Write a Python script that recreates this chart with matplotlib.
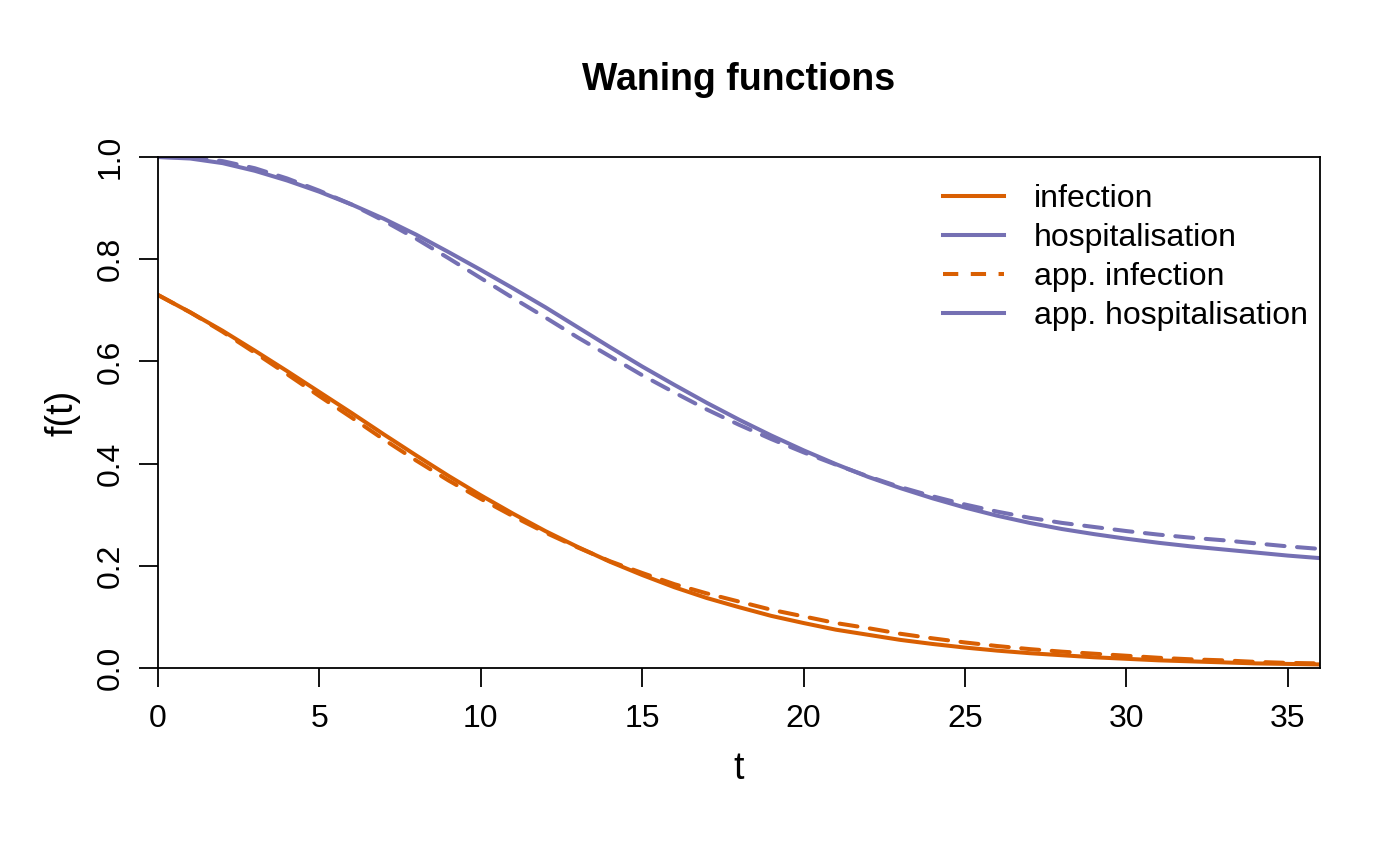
import matplotlib
matplotlib.use('Agg')
import matplotlib.pyplot as plt
from matplotlib.lines import Line2D

plt.rcParams['font.family'] = ['Liberation Sans', 'DejaVu Sans']
plt.rcParams['lines.scale_dashes'] = False

ORANGE = '#D95F02'
PURPLE = '#7570B3'

# time points and curve values
t = list(range(0, 37))

infection = [0.730, 0.696, 0.660, 0.621, 0.581, 0.540, 0.499, 0.457, 0.416, 0.376,
             0.338, 0.302, 0.268, 0.237, 0.208, 0.182, 0.158, 0.137, 0.119, 0.102,
             0.088, 0.075, 0.065, 0.055, 0.047, 0.040, 0.034, 0.029, 0.025, 0.021,
             0.018, 0.015, 0.013, 0.011, 0.009, 0.008, 0.007]

hospitalisation = [1.000, 0.997, 0.988, 0.973, 0.954, 0.932, 0.907, 0.879, 0.848, 0.814,
                   0.779, 0.743, 0.706, 0.667, 0.628, 0.590, 0.554, 0.519, 0.486, 0.455,
                   0.426, 0.399, 0.374, 0.352, 0.332, 0.314, 0.298, 0.284, 0.272, 0.262,
                   0.253, 0.245, 0.238, 0.232, 0.226, 0.220, 0.215]

app_infection = [0.730, 0.696, 0.658, 0.617, 0.575, 0.532, 0.490, 0.447, 0.406, 0.367,
                 0.331, 0.297, 0.265, 0.236, 0.209, 0.186, 0.164, 0.146, 0.130, 0.114,
                 0.101, 0.088, 0.078, 0.067, 0.058, 0.050, 0.043, 0.037, 0.032, 0.028,
                 0.024, 0.020, 0.017, 0.015, 0.012, 0.010, 0.009]

app_hospitalisation = [1.000, 0.999, 0.992, 0.978, 0.958, 0.934, 0.907, 0.875, 0.840, 0.802,
                       0.763, 0.724, 0.686, 0.647, 0.610, 0.573, 0.539, 0.506, 0.476, 0.448,
                       0.422, 0.398, 0.375, 0.354, 0.336, 0.320, 0.306, 0.294, 0.284, 0.276,
                       0.268, 0.261, 0.255, 0.250, 0.244, 0.238, 0.233]

legend_labels = ['infection', 'hospitalisation', 'app. infection', 'app. hospitalisation']

fig = plt.figure(figsize=(14, 8.65), dpi=100)
ax = fig.add_axes([158 / 1400, 1 - 668 / 865, (1320 - 158) / 1400, (668 - 157) / 865])

lw = 2.9
dash = (0, (13, 9))
ax.plot(t, infection, color=ORANGE, lw=lw, solid_capstyle='round')
ax.plot(t, hospitalisation, color=PURPLE, lw=lw, solid_capstyle='round')
ax.plot(t, app_infection, color=ORANGE, lw=lw, linestyle=dash, dash_capstyle='round')
ax.plot(t, app_hospitalisation, color=PURPLE, lw=lw, linestyle=dash, dash_capstyle='round')

ax.set_xlim(0, 36)
ax.set_ylim(0, 1)
ax.set_xticks([0, 5, 10, 15, 20, 25, 30, 35])
ax.set_yticks([0.0, 0.2, 0.4, 0.6, 0.8, 1.0])
ax.set_yticklabels(['0.0', '0.2', '0.4', '0.6', '0.8', '1.0'], rotation=90, va='center')
ax.tick_params(axis='both', direction='out', length=14, width=1.3, labelsize=23)
ax.tick_params(axis='x', pad=12)
ax.tick_params(axis='y', pad=9)
for s in ax.spines.values():
    s.set_linewidth(1.3)

ax.set_xlabel('t', fontsize=27, labelpad=12)
ax.set_ylabel('f(t)', fontsize=27, labelpad=11)
fig.text((158 + 1320) / 2 / 1400, 1 - 80 / 865, 'Waning functions',
         ha='center', va='center', fontsize=27, fontweight='bold')

handles = [Line2D([], [], color=ORANGE, lw=lw),
           Line2D([], [], color=PURPLE, lw=lw),
           Line2D([], [], color=ORANGE, lw=lw, linestyle=(0, (11, 9))),
           Line2D([], [], color=PURPLE, lw=lw)]
ax.legend(handles, legend_labels, loc='upper left',
          bbox_to_anchor=(943 / 1400, 1 - 184 / 865), bbox_transform=fig.transFigure,
          frameon=False, fontsize=23, handlelength=1.9, handletextpad=0.95,
          labelspacing=0.28, borderpad=0, borderaxespad=0)

fig.savefig('out.png', dpi=100, facecolor='white')
